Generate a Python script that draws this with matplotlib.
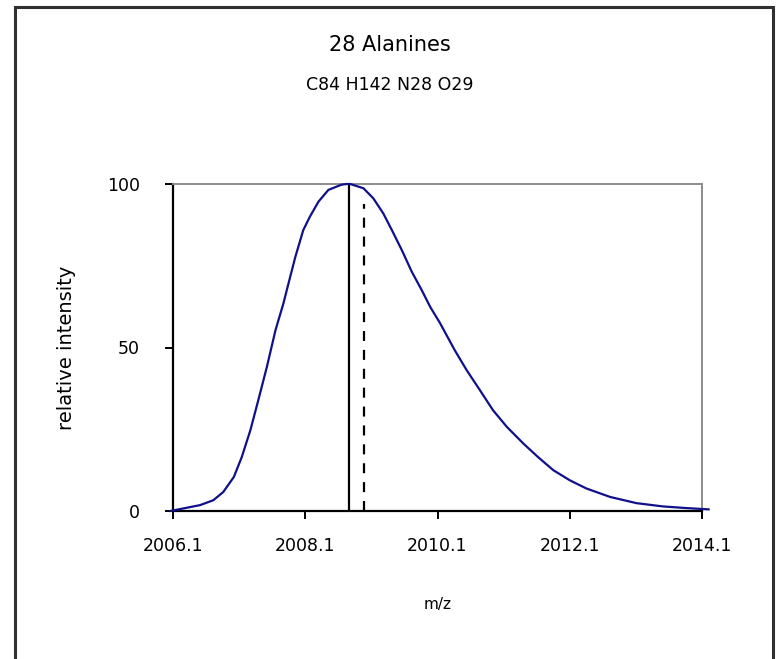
import numpy as np
import matplotlib
matplotlib.use("Agg")
import matplotlib.pyplot as plt
from matplotlib.patches import Rectangle

# isotope envelope
mz = [2006.06, 2006.51, 2006.71, 2006.86, 2007.02, 2007.14, 2007.27, 2007.39,
      2007.52, 2007.65, 2007.77, 2007.82, 2007.95, 2008.07, 2008.17, 2008.30,
      2008.45, 2008.65, 2008.73, 2008.78, 2008.98, 2009.13, 2009.28, 2009.41,
      2009.56, 2009.71, 2009.86, 2009.99, 2010.14, 2010.36, 2010.54, 2010.74,
      2010.94, 2011.15, 2011.40, 2011.62, 2011.85, 2012.10, 2012.35, 2012.71,
      2013.11, 2013.51, 2013.86, 2014.20]
intensity = [0.0, 1.8, 3.3, 5.8, 10.4, 16.5, 24.7, 33.9,
             44.1, 55.3, 63.5, 67.5, 77.7, 85.9, 90.0, 94.6,
             98.2, 99.8, 100.0, 100.0, 98.7, 95.6, 91.0, 85.9,
             79.8, 73.2, 67.6, 62.4, 57.4, 49.2, 43.1, 37.0,
             30.8, 25.7, 20.6, 16.5, 12.5, 9.4, 6.9, 4.3,
             2.4, 1.4, 0.9, 0.5]

peak_mz = 2008.76      # solid marker
avg_mz = 2008.99       # dashed marker
avg_top = 94

x_ticks = [2006.1, 2008.1, 2010.1, 2012.1, 2014.1]
x_labels = ["2006.1", "2008.1", "2010.1", "2012.1", "2014.1"]
y_ticks = [0, 50, 100]

title = "28 Alanines"
formula = "C84 H142 N28 O29"

fig = plt.figure(figsize=(7.76, 6.59), dpi=100)
fig.patch.set_facecolor("white")

# outer frame (open at the bottom like the screenshot)
fig.add_artist(Rectangle((15 / 776, -0.05), (773 - 15) / 776, 1.05 - 7 / 659,
                         transform=fig.transFigure, fill=False,
                         edgecolor="#303030", linewidth=2.2))

ax = fig.add_axes([173 / 776, 1 - 511 / 659, 529 / 776, (511 - 184) / 659])

ax.plot(mz, intensity, color="#10108c", linewidth=1.6, clip_on=False, zorder=3)
ax.vlines(peak_mz, 0, 100, color="black", linewidth=1.6, zorder=2)
ax.vlines(avg_mz, 0, avg_top, color="black", linewidth=1.6,
          linestyles=(0, (4.5, 4)), zorder=2)

ax.set_xlim(2006.1, 2014.1)
ax.set_ylim(0, 100)
ax.set_xticks(x_ticks)
ax.set_xticklabels(x_labels)
ax.set_yticks(y_ticks)

for s in ["left", "bottom"]:
    ax.spines[s].set_color("black")
    ax.spines[s].set_linewidth(1.6)
for s in ["top", "right"]:
    ax.spines[s].set_color("#8c8c8c")
    ax.spines[s].set_linewidth(1.4)

ax.tick_params(axis="x", direction="out", length=6, width=1.4, pad=13,
               labelsize=12.5)
ax.tick_params(axis="y", direction="out", length=6, width=1.4, pad=18,
               labelsize=12.5)

ax.set_xlabel("m/z", fontsize=11, labelpad=30)
ax.set_ylabel("relative intensity", fontsize=14, labelpad=22)

fig.text(390 / 776, 1 - 45 / 659, title, ha="center", va="center", fontsize=15)
fig.text(390 / 776, 1 - 85 / 659, formula, ha="center", va="center",
         fontsize=12.5)

fig.savefig("out.png", dpi=100)
